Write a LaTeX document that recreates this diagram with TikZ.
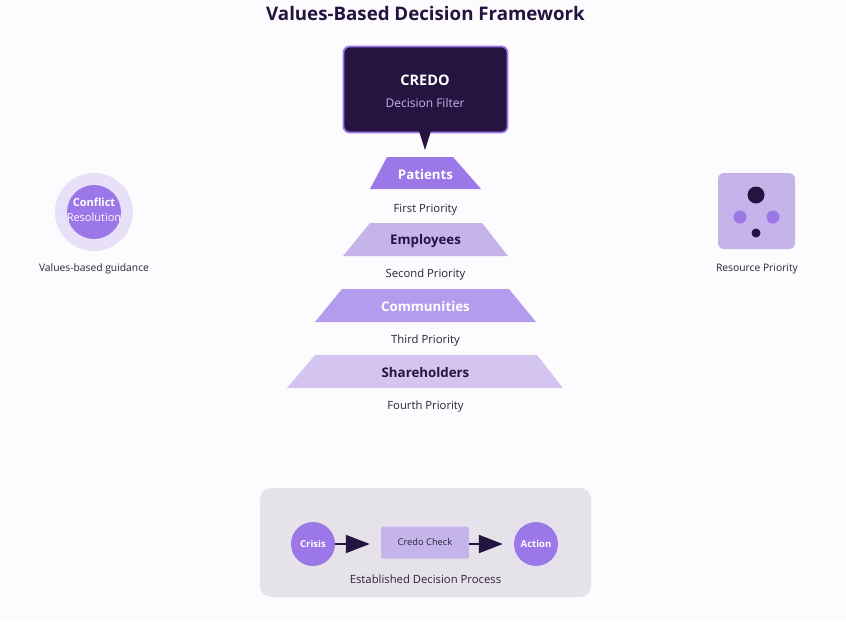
\documentclass[tikz,border=0pt]{standalone}
\usepackage{fontspec}
\setmainfont{Open Sans}
\usetikzlibrary{arrows.meta,calc}
\definecolor{dark}{HTML}{24143F}
\definecolor{purp}{HTML}{9B77E8}
\definecolor{lpurp}{HTML}{C5B4EA}
\definecolor{mpurp}{HTML}{B39CED}
\definecolor{vlpurp}{HTML}{D3C5F0}
\definecolor{pale}{HTML}{E8E0F8}
\definecolor{boxbg}{HTML}{E6E2EA}
\definecolor{bg}{HTML}{FCFBFE}
\definecolor{txt}{HTML}{2A2238}
\definecolor{filt}{HTML}{C9B3F2}
\tikzset{
  lbl/.style={font=\fontsize{11.3}{13}\selectfont, text=txt},
  tierw/.style={font=\bfseries\fontsize{13.3}{15}\selectfont, text=white},
  tierd/.style={font=\bfseries\fontsize{13.3}{15}\selectfont, text=dark},
  flowarrow/.style={draw=dark, line width=2pt, -{Triangle[length=24pt,width=18pt]}},
  circ/.style={circle, fill=purp, minimum size=44pt, inner sep=0pt, text=white, font=\bfseries\fontsize{9.5}{11}\selectfont},
}
\begin{document}
\begin{tikzpicture}[x=1pt,y=-1pt]
\fill[bg] (0,0) rectangle (846,622);
\useasboundingbox (0,0) rectangle (846,622);
% title
\node[font=\bfseries\fontsize{18.7}{22}\selectfont, text=dark] (title) at (425.5,13) {Values-Based Decision Framework};
% credo box
\node[draw=purp, line width=1.8pt, fill=dark, rounded corners=6pt, minimum width=164pt, minimum height=86pt] (credo) at (425.5,89.5) {};
\fill[dark] (419,131) -- (425,150) -- (431,131) -- cycle;
\node[font=\bfseries\fontsize{14.5}{16}\selectfont, text=white] (credot) at (425,80) {CREDO};
\node[font=\fontsize{12}{14}\selectfont, text=filt] (credos) at (425,103) {Decision Filter};
% pyramid
\fill[purp] (387,157) -- (453,157) -- (481,189) -- (370,189) -- cycle;
\node[tierw] (pat) at (425.5,175) {Patients};
\node[lbl] (p1) at (425.5,209.5) {First Priority};
\fill[lpurp] (370,223) -- (482,223) -- (508,256) -- (343,256) -- cycle;
\node[tierd] (emp) at (425.5,241) {Employees};
\node[lbl] (p2) at (425.5,274.5) {Second Priority};
\fill[mpurp] (342,289) -- (509,289) -- (536,322) -- (315,322) -- cycle;
\node[tierw] (com) at (425.5,307) {Communities};
\node[lbl] (p3) at (425.5,340.5) {Third Priority};
\fill[vlpurp] (315,355) -- (537,355) -- (563,388) -- (287,388) -- cycle;
\node[tierd] (sha) at (425.5,373) {Shareholders};
\node[lbl] (p4) at (425.5,406.5) {Fourth Priority};
% left
\fill[pale] (94,212) circle (39);
\fill[purp] (94,212) circle (27);
\node[font=\bfseries\fontsize{11}{12}\selectfont, text=white] (conf) at (94,202) {Conflict};
\node[font=\fontsize{11}{12}\selectfont, text=white] (res) at (94,217) {Resolution};
\node[lbl, font=\fontsize{10.3}{12}\selectfont] (vbg) at (94,269) {Values-based guidance};
% right
\fill[lpurp, rounded corners=6pt] (718,173) rectangle (795,249);
\fill[dark] (756,195) circle (8.5);
\fill[purp] (740,217) circle (6.5);
\fill[purp] (773,217) circle (6.5);
\fill[dark] (756,233) circle (4.5);
\node[lbl, font=\fontsize{10.3}{12}\selectfont] (rp) at (757,269) {Resource Priority};
% bottom process
\fill[boxbg, rounded corners=11pt] (260,488) rectangle (591,597);
\node[circ] (crisis) at (313,544) {Crisis};
\node[fill=lpurp, rounded corners=2pt, minimum width=88pt, minimum height=32pt, inner sep=0pt, font=\fontsize{9.3}{11}\selectfont, text=txt] (check) at (425,542.5) {Credo Check};
\node[circ] (action) at (536,544) {Action};
\draw[flowarrow, shorten >=11pt] (crisis.east) -- ($(check.west)+(0,1.5)$);
\draw[flowarrow, shorten >=11pt] ($(check.east)+(0,1.5)$) -- (action.west);
\node[lbl, font=\fontsize{11.3}{13}\selectfont] (edp) at (425.5,579) {Established Decision Process};
\end{tikzpicture}
\end{document}
